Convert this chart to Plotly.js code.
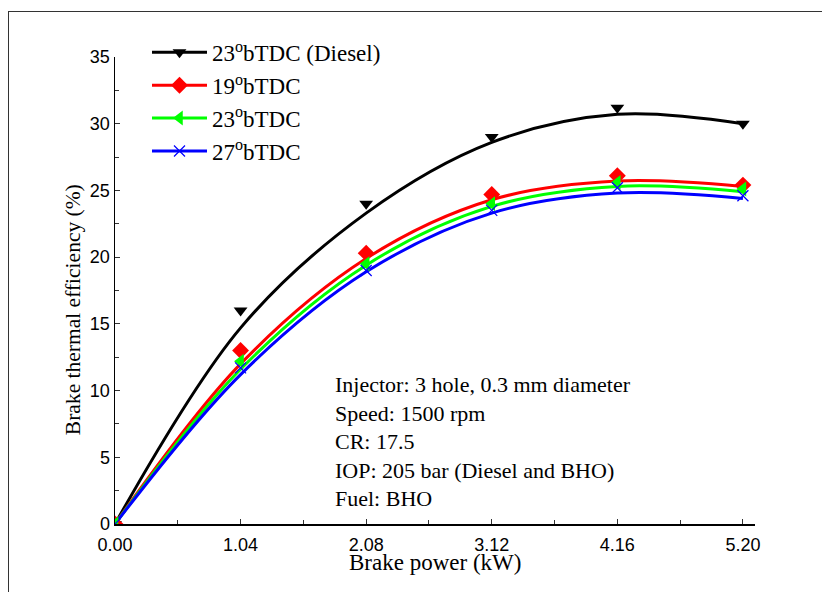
<!DOCTYPE html>
<html>
<head>
<meta charset="utf-8">
<script src="https://cdn.plot.ly/plotly-3.0.1.min.js"></script>
<style>
  html, body { margin: 0; padding: 0; background: #fff; }
  #wrap { position: relative; width: 822px; height: 592px; overflow: hidden; }
  #frame { position: absolute; left: 8px; top: 11px; width: 814px; height: 581px;
           border-top: 1px solid #333; border-left: 1px solid #333; pointer-events: none; }
  #chart { position: absolute; left: 0; top: 0; width: 822px; height: 592px; }
</style>
</head>
<body>
<div id="wrap">
  <div id="chart"></div>
  <div id="frame"></div>
</div>
<script>
// Brake power (kW)
var power = [0, 1.04, 2.08, 3.12, 4.16, 5.20];
var tickLabels = ["0.00", "1.04", "2.08", "3.12", "4.16", "5.20"];

// Measured points (%)
var dieselPts = [0, 16.0, 24.0, 29.0, 31.2, 30.0];
var t19Pts    = [0, 13.0, 20.3, 24.7, 26.1, 25.4];
var t23Pts    = [0, 12.2, 19.5, 24.0, 25.6, 25.1];
var t27Pts    = [0, 11.7, 19.0, 23.5, 25.2, 24.6];

// Fitted curve values (%)
var dieselFit = [0, 14.7, 23.3, 28.6, 30.7, 30.0];
var t19Fit    = [0, 12.0, 19.9, 24.3, 25.7, 25.3];
var t23Fit    = [0, 11.6, 19.4, 23.8, 25.3, 24.9];
var t27Fit    = [0, 11.2, 18.9, 23.3, 24.8, 24.4];

var names = ["23<sup>o</sup>bTDC (Diesel)", "19<sup>o</sup>bTDC", "23<sup>o</sup>bTDC", "27<sup>o</sup>bTDC"];
var colors = ["#000000", "#ff0000", "#00ff00", "#0000ff"];
var symbols = ["triangle-down", "diamond", "triangle-left", "x-thin-open"];
var sizes = [12, 13, 13, 11];
var fits = [dieselFit, t19Fit, t23Fit, t27Fit];
var pts = [dieselPts, t19Pts, t23Pts, t27Pts];

var SERIF = "Liberation Serif";
var SANS = "Liberation Sans";

var traces = [];
// fitted curves
for (var i = 0; i < 4; i++) {
  traces.push({
    x: power, y: fits[i], type: "scatter", mode: "lines", showlegend: false,
    line: { color: colors[i], width: 3, shape: "spline", smoothing: 1 },
    hoverinfo: "skip"
  });
}
// measured points
for (var j = 0; j < 4; j++) {
  traces.push({
    x: power, y: pts[j], type: "scatter", mode: "markers", showlegend: false,
    marker: { symbol: symbols[j], color: colors[j], size: sizes[j],
              line: { color: colors[j], width: symbols[j] === "x-thin-open" ? 1.2 : 0 } }
  });
}
// legend entries (line + marker)
for (var k = 0; k < 4; k++) {
  traces.push({
    x: [null], y: [null], type: "scatter", mode: "lines+markers",
    name: names[k], legendgroup: "g" + k, showlegend: true,
    line: { color: colors[k], width: 3 },
    marker: { symbol: symbols[k], color: colors[k], size: sizes[k],
              line: { color: colors[k], width: symbols[k] === "x-thin-open" ? 1.2 : 0 } }
  });
}

var layout = {
  width: 822, height: 592,
  margin: { l: 115, r: 67, t: 57, b: 68 },
  paper_bgcolor: "rgba(0,0,0,0)", plot_bgcolor: "rgba(0,0,0,0)",
  showlegend: true,
  legend: {
    x: 0.05, y: 1.056, xanchor: "left", yanchor: "top",
    bgcolor: "rgba(0,0,0,0)", borderwidth: 0,
    itemwidth: 55, tracegroupgap: 0,
    font: { family: SERIF, size: 23, color: "#000" }
  },
  xaxis: {
    range: [0, 5.3], showgrid: false, zeroline: false,
    showline: true, linecolor: "#000", linewidth: 1.5,
    tickmode: "array", tickvals: power, ticktext: tickLabels,
    ticks: "inside", ticklen: 5, tickwidth: 1, tickcolor: "#333",
    ticklabelstandoff: 4,
    minor: { tickvals: [0.52, 1.56, 2.60, 3.64, 4.68], ticks: "inside", ticklen: 4, tickcolor: "#333" },
    tickfont: { family: SANS, size: 18, color: "#000" }
  },
  yaxis: {
    range: [0, 35], showgrid: false, zeroline: false,
    showline: true, linecolor: "#000", linewidth: 1.5,
    tickvals: [0, 5, 10, 15, 20, 25, 30, 35],
    ticks: "inside", ticklen: 5, tickwidth: 1, tickcolor: "#333",
    ticklabelstandoff: 0,
    minor: { dtick: 2.5, ticks: "inside", ticklen: 4, tickcolor: "#333" },
    tickfont: { family: SANS, size: 18, color: "#000" }
  },
  annotations: [
    {
      xref: "paper", yref: "paper", x: 0.5, y: -0.0814, xanchor: "center", yanchor: "middle",
      text: "Brake power (kW)", showarrow: false,
      font: { family: SERIF, size: 23, color: "#000" }
    },
    {
      xref: "paper", yref: "paper", x: -0.0656, y: 0.458, xanchor: "center", yanchor: "middle",
      text: "Brake thermal efficiency (%)", showarrow: false, textangle: -90,
      font: { family: SERIF, size: 21.5, color: "#000" }
    },
    {
      xref: "paper", yref: "paper", x: 0.341, y: 0.33, xanchor: "left", yanchor: "top", align: "left",
      text: "Injector: 3 hole, 0.3 mm diameter<br>Speed: 1500 rpm<br>CR: 17.5<br>IOP: 205 bar (Diesel and BHO)<br>Fuel: BHO",
      showarrow: false,
      font: { family: SERIF, size: 22, color: "#000" }
    }
  ]
};

Plotly.newPlot("chart", traces, layout, { displayModeBar: false, staticPlot: true });
</script>
</body>
</html>
